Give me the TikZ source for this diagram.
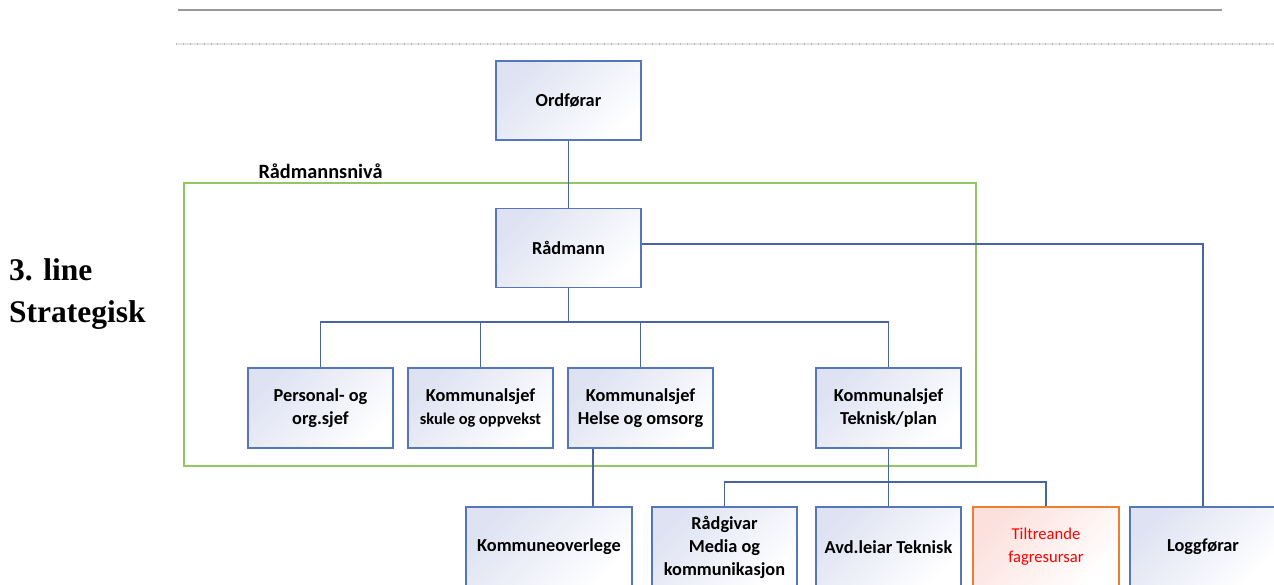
\documentclass[tikz,border=0pt]{standalone}
\usepackage{fontspec}
\setmainfont{Carlito}
\newfontfamily\serifbold{Liberation Serif}
\definecolor{boxline}{RGB}{86,118,186}
\definecolor{conline}{RGB}{72,100,165}
\definecolor{boxtint}{RGB}{222,226,242}
\definecolor{greenframe}{RGB}{146,200,100}
\definecolor{orangeline}{RGB}{237,125,49}
\definecolor{pinktint}{RGB}{252,224,220}
\definecolor{redtext}{RGB}{255,0,0}
\tikzset{
  orgbox/.style={draw=boxline, line width=1.4pt, rectangle, align=center,
    minimum width=145pt, minimum height=80pt, inner sep=2pt,
    top color=boxtint, bottom color=white, shading angle=45,
    font=\fontsize{18.3}{23.5}\selectfont\bfseries},
  orangebox/.style={orgbox, draw=orangeline, top color=pinktint, bottom color=white, shading angle=45,
    font=\fontsize{16.6}{23}\selectfont, text=redtext},
  conn/.style={draw=conline, line width=1.4pt},
}
\begin{document}
\begin{tikzpicture}[x=1pt,y=-1pt]
\useasboundingbox (0,0) rectangle (1274,584);
\clip (0,0) rectangle (1274,584);
% top rules
\coordinate (r1a) at (178,10);
\coordinate (r1b) at (1222,10);
\draw[gray!80, line width=1.2pt] (r1a) -- (r1b);
\coordinate (r2a) at (176,44);
\coordinate (r2b) at (1274,44);
\draw[gray!20, line width=2.5pt] (r2a) -- (r2b);
\draw[gray!55, line width=2.5pt, dash pattern=on 0.5pt off 6.4pt] (r2a) -- (r2b);
% left text
\node[anchor=west, font=\serifbold\fontsize{31.5}{42}\selectfont\bfseries, align=left, inner sep=0pt] (lvl) at (9,294) {3. line\\Strategisk};
% green frame
\node[draw=greenframe, line width=1.4pt, minimum width=792pt, minimum height=283pt, inner sep=0pt] (frame) at (580,324.5) {};
\node[font=\fontsize{20.3}{24}\selectfont\bfseries] (framelbl) at (320.5,171) {Rådmannsnivå};
% boxes
\node[orgbox, minimum height=79pt] (ord) at (568.5,100.5) {Ordførar};
\node[orgbox, minimum height=79pt] (rad) at (568.5,248) {Rådmann};
\node[orgbox] (pers) at (320.5,408) {Personal- og\\org.sjef};
\node[orgbox] (skule) at (480.5,408) {Kommunalsjef\\{\fontsize{16.4}{23.5}\selectfont skule og oppvekst}};
\node[orgbox] (helse) at (640.5,408) {Kommunalsjef\\Helse og omsorg};
\node[orgbox] (tek) at (888.5,408) {Kommunalsjef\\Teknisk/plan};
\node[orgbox, minimum width=166pt] (ko) at (549,547) {Kommuneoverlege};
\node[orgbox, font=\fontsize{18.3}{23}\selectfont\bfseries] (rg) at (724.5,547) {Rådgivar\\Media og\\kommunikasjon};
\node[orgbox] (avd) at (888.5,547) {Avd.leiar Teknisk};
\node[orangebox, minimum width=146pt] (tilt) at (1046,547) {Tiltreande\\fagresursar};
\node[orgbox, minimum width=146pt] (logg) at (1203,547) {Loggførar};
% connectors
\draw[conn] (ord.south) -- (rad.north);
\draw[conn] (rad.south) -- (rad.south |- 0,322);
\draw[conn] (pers.north) |- (tek.north |- 0,322) -- (tek.north);
\draw[conn] (skule.north) -- (skule.north |- 0,322);
\draw[conn] (helse.north) -- (helse.north |- 0,322);
\draw[conn] ([yshift=4pt]rad.east) -| (logg.north);
\draw[conn] ([xshift=-47.5pt]helse.south) -- ([xshift=-47.5pt]helse.south |- ko.north);
\draw[conn] (tek.south) -- (avd.north);
\draw[conn] (rg.north) |- (tilt.north |- 0,482) -- (tilt.north);
\end{tikzpicture}
\end{document}
